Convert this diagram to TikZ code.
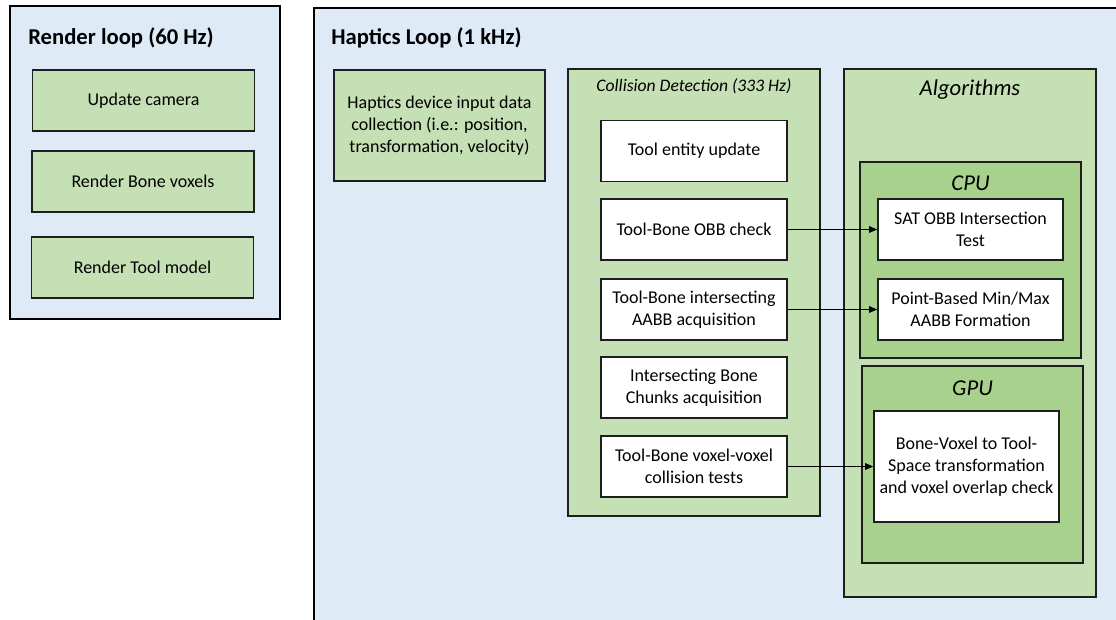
\documentclass[tikz,border=0pt]{standalone}
\usepackage{fontspec}
\setmainfont{Carlito}
\usepackage{tikz}
\usetikzlibrary{shapes,arrows.meta,positioning,calc}
\definecolor{loopblue}{RGB}{222,235,247}
\definecolor{lightgreen}{RGB}{197,224,180}
\definecolor{darkgreen}{RGB}{169,209,142}
\definecolor{edgegray}{RGB}{30,30,30}

\tikzset{
    loopbox/.style = {draw=black, line width=1.8pt, fill=loopblue},
    stagebox/.style = {draw=edgegray, line width=1.3pt, fill=lightgreen},
    unitbox/.style = {draw=edgegray, line width=1.3pt, fill=darkgreen},
    taskbox/.style = {draw=edgegray, line width=1.3pt, fill=white, align=center,
        font=\fontsize{13.5}{16.5}\selectfont, minimum width=139.5pt, minimum height=45.75pt},
    greenbox/.style = {stagebox, align=center, font=\fontsize{13.5}{16.5}\selectfont,
        minimum width=166.5pt, minimum height=45.75pt},
    looptitle/.style = {anchor=west, inner sep=0pt, font=\fontsize{17}{20}\selectfont\bfseries},
    subtitle/.style = {font=\fontsize{13.2}{16}\selectfont\itshape},
    unittitle/.style = {font=\fontsize{17}{20}\selectfont\itshape},
    link/.style = {draw=black, line width=0.7pt, -{Triangle[length=6pt,width=5pt]}}
}

\begin{document}
\begin{tikzpicture}[x=0.75pt, y=-0.75pt]
    \clip (0,0) rectangle (1116,619);
    \fill[white] (0,0) rectangle (1116,619);

    % render loop
    \node[loopbox, minimum width=202.5pt, minimum height=234.75pt] (render) at (145,162.5) {};
    \node[looptitle] (renderT) at (28,38) {Render loop (60 Hz)};
    \node[greenbox] (camera) at (143.5,100.5) {Update camera};
    \node[greenbox] (bonevox) at (143,181.5) {Render Bone voxels};
    \node[greenbox] (toolmodel) at (142.5,267.5) {Render Tool model};

    % haptics loop
    \node[loopbox, minimum width=612pt, minimum height=474pt] (haptics) at (722,324) {};
    \node[looptitle] (hapticsT) at (331,38) {Haptics Loop (1 kHz)};
    \node[greenbox, minimum width=158.25pt, minimum height=83.25pt] (device) at (439.5,125.5)
        {Haptics device input data\\collection (i.e.: position,\\transformation, velocity)};

    % collision detection
    \node[stagebox, minimum width=189pt, minimum height=335.25pt] (collision) at (694,292.5) {};
    \node[subtitle] (collisionT) at (694,86) {Collision Detection (333 Hz)};
    \node[taskbox] (entity) at (694,151) {Tool entity update};
    \node[taskbox] (obb) at (694,229.5) {Tool-Bone OBB check};
    \node[taskbox] (aabb) at (694,309.5) {Tool-Bone intersecting\\AABB acquisition};
    \node[taskbox] (chunks) at (694,387.5) {Intersecting Bone\\Chunks acquisition};
    \node[taskbox] (voxvox) at (694,466.5) {Tool-Bone voxel-voxel\\collision tests};

    % algorithms
    \node[stagebox, minimum width=189pt, minimum height=396pt] (algo) at (970,333) {};
    \node[unittitle] (algoT) at (970,90) {Algorithms};
    \node[unitbox, minimum width=165.75pt, minimum height=147pt] (cpu) at (970.5,260) {};
    \node[unittitle] (cpuT) at (970.5,183) {CPU};
    \node[taskbox, minimum width=138.75pt] (sat) at (970.5,229.5) {SAT OBB Intersection\\Test};
    \node[taskbox, minimum width=138.75pt] (minmax) at (970.5,309.5) {Point-Based Min/Max\\AABB Formation};
    \node[unitbox, minimum width=165.75pt, minimum height=147.75pt] (gpu) at (972.5,464.5) {};
    \node[unittitle] (gpuT) at (972.5,388) {GPU};
    \node[taskbox, minimum width=138.75pt, minimum height=83.25pt] (overlap) at (966.5,466.5)
        {Bone-Voxel to Tool-\\Space transformation\\and voxel overlap check};

    \draw[link] (obb) -- (sat);
    \draw[link] (aabb) -- (minmax);
    \draw[link] (voxvox) -- (overlap);
\end{tikzpicture}
\end{document}
